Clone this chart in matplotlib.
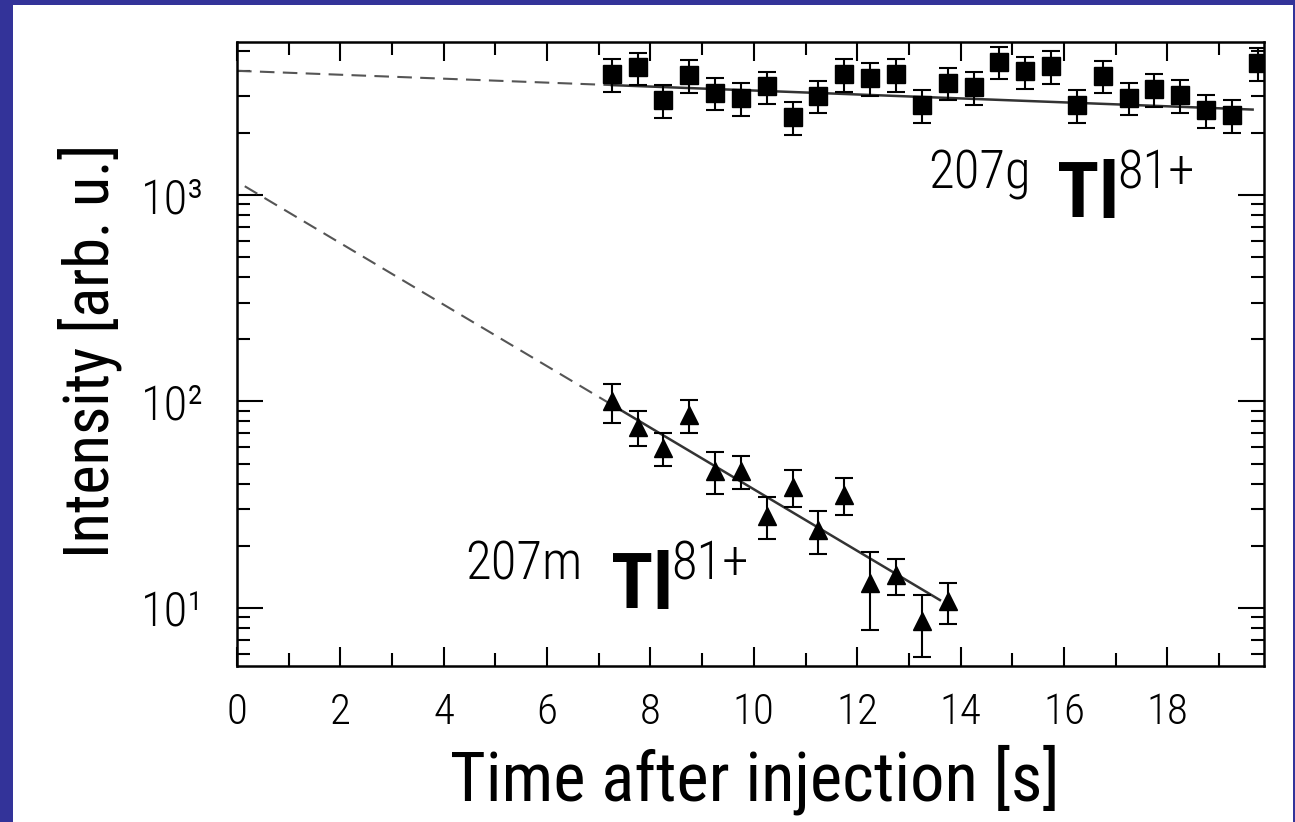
import os
import numpy as np
import matplotlib
matplotlib.use('Agg')
import matplotlib.pyplot as plt
from matplotlib import font_manager as fm
from matplotlib.patches import Rectangle
from matplotlib.ticker import MultipleLocator, LogLocator, NullFormatter

# 207g Tl81+ (squares)
t_g = [7.25, 7.75, 8.25, 8.75, 9.25, 9.75, 10.25, 10.75, 11.25, 11.75, 12.25, 12.75, 13.25,
       13.75, 14.25, 14.75, 15.25, 15.75, 16.25, 16.75, 17.25, 17.75, 18.25, 18.75, 19.25, 19.75]
n_g = [3840, 4140, 2880, 3810, 3130, 2940, 3350, 2380, 3020, 3840, 3670, 3840, 2730,
       3500, 3320, 4420, 3960, 4210, 2730, 3780, 2960, 3250, 3050, 2580, 2440, 4340]
err_g = [690, 740, 520, 690, 560, 530, 600, 430, 540, 690, 660, 690, 490,
         630, 600, 770, 710, 760, 490, 680, 530, 590, 550, 460, 440, 780]

# 207m Tl81+ (triangles)
t_m = [7.25, 7.75, 8.25, 8.75, 9.25, 9.75, 10.25, 10.75, 11.25, 11.75, 12.25, 12.75, 13.25, 13.75]
n_m = [100, 75.5, 59.7, 86, 46.2, 46, 28, 38.7, 23.9, 35.4, 13.2, 14.4, 8.7, 10.8]
err_m = [21.5, 14.7, 11, 15.7, 10.6, 8.5, 6.5, 7.7, 5.7, 7.2, 5.4, 2.9, 2.9, 2.4]

# exponential fits: intensity at t=0, decay constant [1/s], extrapolated / fitted range
fit_g = (3990, 0.0220)
fit_g_dash = (0, 7.25)
fit_g_solid = (7.25, 19.65)
fit_m = (1160, 0.343)
fit_m_dash = (0.15, 7.25)
fit_m_solid = (7.25, 13.6)

xticks = [0, 2, 4, 6, 8, 10, 12, 14, 16, 18]
xtick_labels = ['0', '2', '4', '6', '8', '10', '12', '14', '16', '18']
yticks = [10, 100, 1000]
ytick_labels = ['10¹', '10²', '10³']


def pick_font(names, size):
    files = {os.path.basename(f.fname): f.fname for f in fm.fontManager.ttflist}
    for n in names:
        if n in files:
            return fm.FontProperties(fname=files[n], size=size)
    return fm.FontProperties(family='DejaVu Sans', size=size)


# narrow fonts, like the original figure
regular = ['RobotoCondensed-Regular.ttf', 'NotoSans-ExtraCondensed.ttf', 'NotoSans-Condensed.ttf',
           'LiberationSansNarrow-Regular.ttf', 'DejaVuSansCondensed.ttf']
light = ['RobotoCondensed-Light.ttf'] + regular
bold = ['RobotoCondensed-Bold.ttf', 'NotoSans-ExtraCondensedBold.ttf', 'NotoSans-CondensedBold.ttf',
        'LiberationSansNarrow-Bold.ttf', 'DejaVuSansCondensed-Bold.ttf']

f_tick = pick_font(light, 31)
f_ytick = pick_font(light, 35)
f_xlab = pick_font(regular, 49.5)
f_ylab = pick_font(regular, 45)
f_ann = pick_font(light, 38)
f_tl = pick_font(bold, 56)


def decay(t, p):
    return p[0] * np.exp(-p[1] * np.asarray(t))


fig = plt.figure(figsize=(12.95, 8.22), dpi=100, facecolor='#333399')
fig.patches.append(Rectangle((13 / 1295, 0), 1280 / 1295, 1 - 5 / 822,
                             transform=fig.transFigure, facecolor='white', edgecolor='none', zorder=-1))
ax = fig.add_axes([237 / 1295, 1 - 666 / 822, 1027 / 1295, 624 / 822])

for p, dash, solid in [(fit_g, fit_g_dash, fit_g_solid), (fit_m, fit_m_dash, fit_m_solid)]:
    td = np.linspace(dash[0], dash[1], 50)
    ts = np.linspace(solid[0], solid[1], 50)
    ax.plot(td, decay(td, p), color='#555555', lw=1.5, dashes=(7, 4))
    ax.plot(ts, decay(ts, p), color='#333333', lw=1.8)

ax.errorbar(t_g, n_g, yerr=err_g, fmt='s', color='black', ms=12.5, capsize=6.5,
            elinewidth=1.5, capthick=1.5)
ax.errorbar(t_m, n_m, yerr=err_m, fmt='^', color='black', ms=13, capsize=6.5,
            elinewidth=1.5, capthick=1.5)

ax.set_yscale('log')
ax.set_xlim(0, 19.87)
ax.set_ylim(5.24, 5500)

ax.set_xticks(xticks, xtick_labels)
ax.xaxis.set_minor_locator(MultipleLocator(1))
ax.set_yticks(yticks, ytick_labels)
ax.yaxis.set_minor_locator(LogLocator(base=10, subs=np.arange(2, 10)))
ax.yaxis.set_minor_formatter(NullFormatter())

ax.tick_params(which='both', direction='in', top=True, right=True, width=1.5, color='black')
ax.tick_params(axis='x', which='major', length=14, pad=19)
ax.tick_params(axis='y', which='major', length=19, pad=24)
ax.tick_params(which='minor', length=9.5)
for lab in ax.get_xticklabels():
    lab.set_fontproperties(f_tick)
for lab in ax.get_yticklabels():
    lab.set_fontproperties(f_ytick)
for s in ax.spines.values():
    s.set_linewidth(1.8)

ax.set_xlabel('Time after injection [s]', fontproperties=f_xlab)
ax.xaxis.set_label_coords(0.504, -0.126)
ax.set_ylabel('Intensity [arb. u.]', fontproperties=f_ylab)
ax.yaxis.set_label_coords(-0.112, 0.505)

# isotope labels
for x0, y0, mass, dx1, dx2 in [(0.6728, 0.766, '207g', 0.1256, 0.1840),
                               (0.2220, 0.1394, '207m', 0.1422, 0.2005)]:
    ax.text(x0, y0, mass, transform=ax.transAxes, fontproperties=f_ann, va='baseline')
    ax.text(x0 + dx1, y0 - 0.0465, 'Tl', transform=ax.transAxes, fontproperties=f_tl, va='baseline')
    ax.text(x0 + dx2, y0, '81+', transform=ax.transAxes, fontproperties=f_ann, va='baseline')

fig.savefig('out.png', dpi=100)
